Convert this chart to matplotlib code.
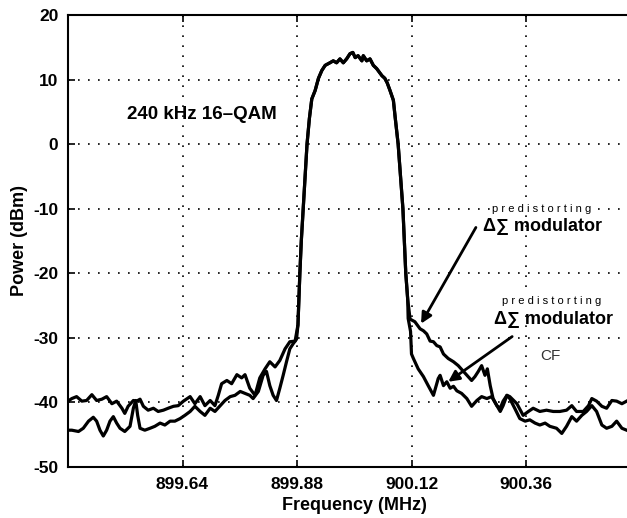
import matplotlib
matplotlib.use("Agg")
import matplotlib.pyplot as plt
import numpy as np

plt.rcParams['font.family'] = ['Liberation Sans', 'DejaVu Sans']
plt.rcParams['axes.unicode_minus'] = False

# ---- data (MHz, dBm) ----
tail1_left_freq = [899.400, 899.408, 899.418, 899.429, 899.439, 899.450, 899.460, 899.471, 899.481,
                   899.492, 899.502, 899.513, 899.519, 899.526, 899.537, 899.544, 899.551, 899.558,
                   899.568, 899.579, 899.589, 899.600, 899.610, 899.621, 899.631, 899.642, 899.656,
                   899.666, 899.677, 899.687, 899.698, 899.708, 899.715, 899.722, 899.733, 899.743,
                   899.754, 899.764, 899.771, 899.781, 899.792, 899.802, 899.813, 899.823, 899.834,
                   899.844, 899.855, 899.865, 899.876]
tail1_left_power = [-39.8, -39.4, -39.1, -39.8, -39.7, -38.8, -39.7, -39.5, -39.1,
                    -40.2, -39.8, -40.9, -41.7, -40.6, -39.7, -39.8, -39.5, -40.6,
                    -41.2, -40.9, -41.4, -41.2, -40.9, -40.6, -40.5, -39.8, -39.1,
                    -40.2, -39.1, -40.5, -39.7, -40.5, -38.9, -37.1, -36.6, -37.1,
                    -35.7, -36.2, -35.7, -37.8, -38.9, -36.2, -34.8, -33.7, -34.5,
                    -33.5, -31.7, -30.6, -30.5]

tail2_left_freq = [899.400, 899.408, 899.422, 899.432, 899.443, 899.453, 899.460, 899.467, 899.474,
                   899.481, 899.488, 899.495, 899.502, 899.509, 899.519, 899.530, 899.537, 899.542,
                   899.546, 899.551, 899.561, 899.572, 899.582, 899.593, 899.603, 899.614, 899.624,
                   899.635, 899.645, 899.656, 899.666, 899.677, 899.687, 899.698, 899.708, 899.719,
                   899.729, 899.740, 899.750, 899.761, 899.771, 899.781, 899.788, 899.799, 899.809,
                   899.816, 899.823, 899.830, 899.837, 899.844, 899.851, 899.858, 899.865, 899.872,
                   899.879]
tail2_left_power = [-44.3, -44.3, -44.5, -44.0, -42.9, -42.3, -42.9, -44.3, -45.2,
                    -44.3, -42.9, -42.2, -43.2, -44.0, -44.5, -43.7, -40.9, -39.7,
                    -42.0, -44.0, -44.3, -44.0, -43.7, -43.2, -43.5, -42.9, -42.9,
                    -42.5, -42.0, -41.4, -40.6, -41.4, -42.0, -40.9, -41.4, -40.5,
                    -39.7, -39.1, -38.9, -38.3, -38.6, -38.9, -39.4, -38.3, -35.8,
                    -35.2, -37.4, -38.9, -39.7, -37.8, -35.8, -33.7, -31.7, -30.9,
                    -30.2]

lobe_freq = [899.882, 899.884, 899.886, 899.889, 899.893, 899.897, 899.901, 899.906, 899.911,
             899.918, 899.925, 899.932, 899.939, 899.949, 899.956, 899.963, 899.970, 899.977,
             899.984, 899.991, 899.997, 900.002, 900.008, 900.016, 900.019, 900.026, 900.033,
             900.040, 900.047, 900.058, 900.064, 900.069, 900.075, 900.082, 900.086, 900.092,
             900.097, 900.102, 900.105, 900.108, 900.112]
lobe_power = [-28.0, -24.0, -20.0, -15.0, -10.0, -5.0, 0.0, 4.0, 7.0,
              8.3, 10.2, 11.4, 12.2, 12.6, 12.9, 12.6, 13.2, 12.6,
              13.2, 14.0, 14.2, 13.4, 13.7, 12.9, 13.7, 12.9, 13.2,
              12.2, 11.7, 10.6, 10.2, 9.5, 8.3, 6.8, 4.0, 0.0,
              -5.0, -10.0, -15.0, -20.0, -24.0]

tail1_right_freq = [900.117, 900.127, 900.138, 900.145, 900.152, 900.159, 900.166, 900.173, 900.180,
                    900.187, 900.197, 900.208, 900.218, 900.229, 900.239, 900.246, 900.253, 900.260,
                    900.267, 900.274, 900.279, 900.285, 900.291, 900.299, 900.306, 900.312, 900.320,
                    900.326, 900.341, 900.354, 900.365, 900.375, 900.389, 900.403, 900.417, 900.431,
                    900.445, 900.456, 900.466, 900.480, 900.491, 900.498, 900.508, 900.519, 900.529,
                    900.540, 900.550, 900.561, 900.571]
tail1_right_power = [-27.1, -27.5, -28.6, -28.9, -29.4, -30.5, -30.6, -31.2, -31.4,
                     -32.5, -33.2, -33.7, -34.3, -35.2, -36.0, -36.6, -36.0, -35.2,
                     -34.3, -35.8, -34.8, -37.4, -39.4, -40.5, -40.9, -39.8, -38.9,
                     -39.1, -40.2, -42.0, -41.4, -40.9, -41.4, -41.2, -41.4, -41.4,
                     -41.2, -40.5, -41.4, -41.4, -40.5, -39.4, -39.8, -40.6, -40.9,
                     -39.7, -39.8, -40.2, -39.8]

tail2_right_freq = [900.113, 900.118, 900.120, 900.124, 900.134, 900.145, 900.155, 900.166, 900.176,
                    900.180, 900.187, 900.194, 900.201, 900.208, 900.215, 900.225, 900.236, 900.246,
                    900.257, 900.267, 900.278, 900.288, 900.299, 900.306, 900.312, 900.320, 900.326,
                    900.337, 900.347, 900.358, 900.368, 900.379, 900.389, 900.400, 900.410, 900.424,
                    900.435, 900.445, 900.456, 900.466, 900.477, 900.487, 900.498, 900.508, 900.519,
                    900.529, 900.540, 900.550, 900.561, 900.571]
tail2_right_power = [-27.0, -29.0, -32.5, -33.2, -34.8, -36.0, -37.4, -38.9, -36.3,
                     -35.8, -37.4, -36.8, -37.8, -37.5, -38.2, -38.6, -39.4, -40.6,
                     -39.7, -39.1, -39.4, -39.1, -40.5, -41.4, -40.5, -38.9, -39.4,
                     -41.0, -42.5, -42.9, -42.7, -43.2, -43.5, -43.2, -43.7, -44.0,
                     -44.8, -43.7, -42.2, -42.9, -42.0, -41.4, -40.5, -41.4, -43.5,
                     -44.0, -43.7, -42.9, -44.0, -44.3]

x_ticks = [899.64, 899.88, 900.12, 900.36]
x_tick_labels = ["899.64", "899.88", "900.12", "900.36"]
y_ticks = [-50, -40, -30, -20, -10, 0, 10, 20]

curve1_f = tail1_left_freq + lobe_freq + tail1_right_freq
curve1_p = tail1_left_power + lobe_power + tail1_right_power
curve2_f = tail2_left_freq + lobe_freq + tail2_right_freq
curve2_p = tail2_left_power + lobe_power + tail2_right_power

# ---- figure ----
fig = plt.figure(figsize=(6.27, 5.18), dpi=100)
ax = fig.add_axes([68/627, 51/518, 572.5/627, 452/518])

ax.plot(curve2_f, curve2_p, color='black', lw=2.3, solid_joinstyle='round')
ax.plot(curve1_f, curve1_p, color='black', lw=2.3, solid_joinstyle='round')

ax.set_xlim(899.40, 900.60)
ax.set_ylim(-50, 20)
ax.set_xticks(x_ticks)
ax.set_xticklabels(x_tick_labels)
ax.set_yticks(y_ticks)
ax.grid(True, color='black', linestyle=(0, (1, 5)), linewidth=1.2)
ax.tick_params(direction='in', length=5, width=1.2, top=True, right=True,
               labelsize=12.5, pad=7)
for lab in ax.get_xticklabels() + ax.get_yticklabels():
    lab.set_fontweight('bold')
for s in ax.spines.values():
    s.set_linewidth(1.5)

ax.set_xlabel("Frequency (MHz)", fontsize=13, fontweight='bold', labelpad=4)
ax.set_ylabel("Power (dBm)", fontsize=13, fontweight='bold', labelpad=4)

ax.text(899.681, 4.6, "240 kHz 16\u2013QAM", fontsize=13.5, fontweight='bold',
        ha='center', va='center')

ax.text(900.392, -10.0, "p r e d i s t o r t i n g", fontsize=8, ha='center', va='center',
        bbox=dict(facecolor='white', edgecolor='none', pad=0.5))
ax.text(900.394, -12.8, "\u0394\u2211 modulator", fontsize=13, fontweight='bold',
        ha='center', va='center')
ax.annotate("", xy=(900.140, -27.8), xytext=(900.255, -12.9),
            arrowprops=dict(arrowstyle='-|>', lw=2, color='black', mutation_scale=16,
                            shrinkA=0, shrinkB=0))

ax.text(900.414, -24.3, "p r e d i s t o r t i n g", fontsize=8, ha='center', va='center',
        bbox=dict(facecolor='white', edgecolor='none', pad=0.5))
ax.text(900.417, -27.1, "\u0394\u2211 modulator", fontsize=13, fontweight='bold',
        ha='center', va='center')
ax.annotate("", xy=(900.197, -36.8), xytext=(900.331, -29.8),
            arrowprops=dict(arrowstyle='-|>', lw=2, color='black', mutation_scale=16,
                            shrinkA=0, shrinkB=0))

ax.text(900.412, -32.8, "CF", fontsize=11, color='#333333', ha='center', va='center')

fig.savefig("out.png", dpi=100)
